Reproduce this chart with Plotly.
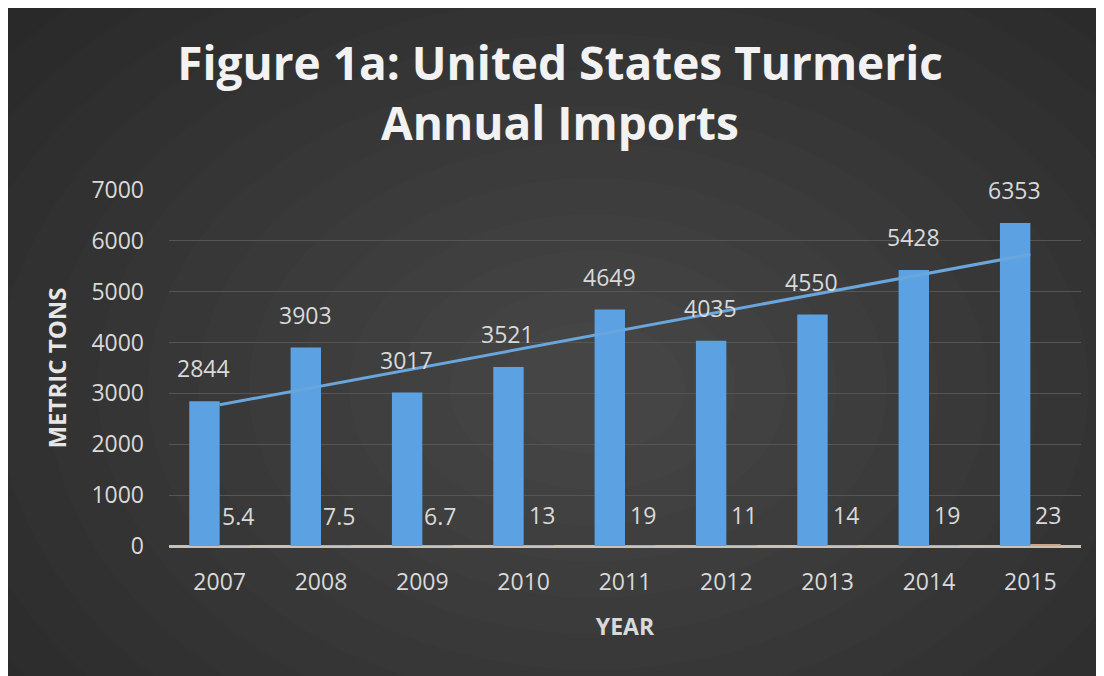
import numpy as np
import plotly.graph_objects as go

years = ["2007", "2008", "2009", "2010", "2011", "2012", "2013", "2014", "2015"]
imports_mt = [2844, 3903, 3017, 3521, 4649, 4035, 4550, 5428, 6353]
second_series = [5.4, 7.5, 6.7, 13, 19, 11, 14, 19, 23]
second_labels = ["5.4", "7.5", "6.7", "13", "19", "11", "14", "19", "23"]
y_ticks = [0, 1000, 2000, 3000, 4000, 5000, 6000, 7000]

W, H = 1104, 676
L, R, T, B = 161, 31, 182, 138
PW, PH = W - L - R, H - T - B


def px_x(p):
    return (p - L) / PW


def px_y(p):
    return (H - B - p) / PH


# linear trendline (least squares, like Excel)
idx = np.arange(len(years))
slope, icpt = np.polyfit(idx, imports_mt, 1)
trend = slope * idx + icpt

LABEL = "#d9d9d9"
FONT = "Open Sans"

fig = go.Figure()
fig.add_trace(go.Bar(x=years, y=imports_mt, marker=dict(color="#5ca2e2", line=dict(width=0)),
                     name="Imports", offsetgroup="a"))
fig.add_trace(go.Bar(x=years, y=second_series, marker=dict(color="#c9a58a", line=dict(width=0)),
                     name="Second", offsetgroup="b"))
fig.add_trace(go.Scatter(x=years, y=trend, mode="lines", line=dict(color="#6aa6dc", width=3),
                         name="Trend"))

annotations = []
for i, v in enumerate(imports_mt):
    annotations.append(dict(x=i, y=v, xref="x", yref="y", text=str(v), showarrow=False,
                            xshift=-16, yshift=33, yanchor="middle",
                            font=dict(family=FONT, size=23, color=LABEL)))
for i, (v, t) in enumerate(zip(second_series, second_labels)):
    annotations.append(dict(x=i, y=v, xref="x", yref="y", text=t, showarrow=False,
                            xshift=18, yshift=30, yanchor="middle",
                            font=dict(family=FONT, size=23, color=LABEL)))

shapes = []
# soft radial glow
cx, cy = 585, 380
for i in range(15):
    r = 760 - i * 48
    shapes.append(dict(type="circle", xref="paper", yref="paper", layer="below",
                       x0=px_x(cx - r * 1.05), x1=px_x(cx + r * 1.05),
                       y0=px_y(cy - r * 0.75), y1=px_y(cy + r * 0.75),
                       fillcolor="rgba(255,255,255,0.0135)", line=dict(width=0)))

fig.update_layout(
    width=W, height=H,
    margin=dict(l=L, r=R, t=T, b=B),
    paper_bgcolor="#272727",
    plot_bgcolor="rgba(0,0,0,0)",
    showlegend=False,
    barmode="group",
    bargap=0.4,
    bargroupgap=0.0,
    title=dict(text="Figure 1a: United States Turmeric<br>Annual Imports",
               x=0.5, xanchor="center", yref="container", y=1 - 72 / H, yanchor="middle",
               font=dict(family=FONT, size=46, color="#f2f2f2", weight="bold")),
    xaxis=dict(
        type="category", range=[-0.5, len(years) - 0.5], autorange=False,
        showgrid=False, zeroline=False, showline=False,
        tickfont=dict(family=FONT, size=23, color=LABEL), ticks="",
        ticklabelstandoff=20,
        title=dict(text="YEAR", standoff=22,
                   font=dict(family=FONT, size=23, color=LABEL, weight="bold")),
    ),
    yaxis=dict(
        range=[0, 7000], autorange=False, tickvals=y_ticks, showgrid=True,
        gridcolor="#555555", gridwidth=1,
        zeroline=True, zerolinecolor="#c9c0b8", zerolinewidth=3, showline=False,
        tickfont=dict(family=FONT, size=23, color=LABEL), ticks="",
        ticklabelstandoff=24,
        title=dict(text="METRIC TONS", standoff=17,
                   font=dict(family=FONT, size=24, color="#e6e6e6", weight="bold")),
    ),
    annotations=annotations,
    shapes=shapes,
)

fig.write_html("out.html")
